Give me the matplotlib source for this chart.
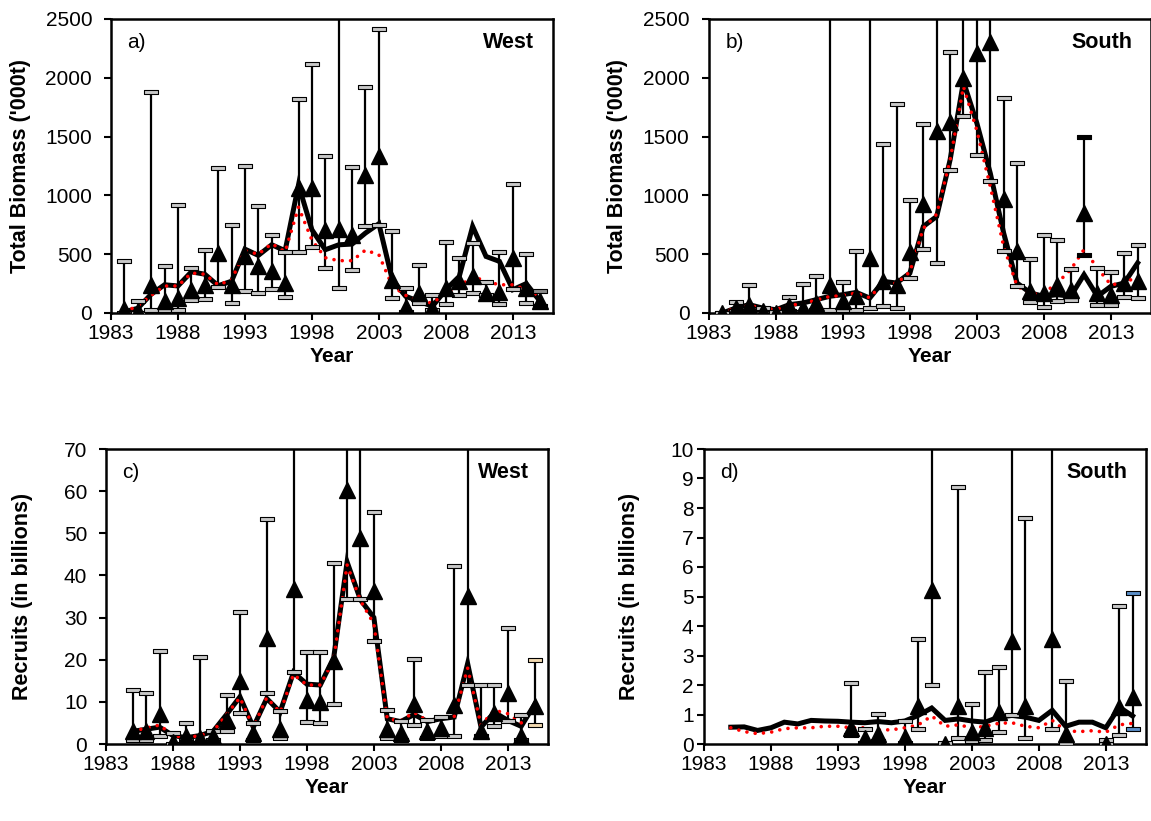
import matplotlib
matplotlib.use("Agg")
import matplotlib.pyplot as plt
import numpy as np

plt.rcParams['font.family'] = ['Liberation Sans', 'DejaVu Sans']

nan = np.nan

# ---- a) West biomass ('000 t), 1984-2015
years_ab = list(range(1984, 2016))
a_model = [10, 40, 160, 240, 230, 350, 330, 232, 270, 543, 490, 580, 530, 1090, 708, 538,
           580, 586, 680, 759, 283, 142, 99, 57, 198, 311, 736, 481, 439, 198, 250, 105]
a_alt = [10, 60, 150, 230, 230, 340, 330, 240, 280, 530, 500, 590, 520, 900, 620, 470,
         445, 445, 535, 495, 230, 150, 100, 85, 170, 226, 311, 269, 240, 240, 198, 142]
a_obs = [34, 14, 240, 99, 127, 198, 240, 510, 240, 481, 396, 354, 255, 1060, 1062, 708,
         713, 665, 1175, 1336, 283, 50, 170, 45, 212, 269, 311, 170, 178, 467, 212, 99]
a_hi = [439, 99, 1883, 402, 920, 382, 532, 1237, 745, 1254, 912, 660, 518, 1818, 2115, 1339,
        3500, 1240, 1925, 2415, 694, 212, 405, 156, 600, 464, 595, 260, 518, 1096, 501, 184]
a_lo = [0, 0, 28, 23, 23, 108, 122, 221, 85, 190, 170, 207, 133, 518, 560, 382,
        212, 368, 736, 745, 127, 10, 85, 28, 79, 156, 170, 150, 76, 200, 85, 60]

# ---- b) South biomass ('000 t), 1984-2015
b_model = [0, 42, 71, 42, 28, 71, 85, 113, 142, 156, 175, 127, 269, 255, 340, 736,
           821, 1302, 1968, 1614, 1189, 680, 255, 170, 142, 156, 142, 326, 142, 226, 255, 425]
b_alt = [0, 42, 65, 40, 30, 65, 80, 110, 140, 150, 170, 130, 260, 250, 350, 720,
         840, 1300, 1925, 1550, 1076, 566, 230, 160, 170, 255, 368, 540, 382, 240, 255, 311]
b_obs = [0, 42, 71, 14, 0, 57, 42, 85, 240, 99, 142, 467, 269, 240, 518, 926,
         1549, 1628, 2000, 2208, 2308, 971, 529, 190, 170, 235, 198, 849, 170, 156, 255, 269]
b_hi = [0, 90, 235, 40, 10, 133, 249, 311, 4000, 263, 524, 4000, 1438, 1778, 957, 1608,
        4000, 2217, 4000, 4000, 4000, 1832, 1274, 461, 660, 617, 377, 1495, 382, 348, 510, 575]
b_lo = [0, 20, 30, 0, 0, 20, 10, 25, 28, 28, 28, 42, 57, 42, 297, 544,
        425, 1217, 1679, 1345, 1124, 524, 232, 93, 51, 99, 113, 495, 71, 71, 133, 127]

# ---- c) West recruits (billions), 1985-2015
years_cd = list(range(1985, 2016))
c_model = [3.0, 3.5, 4.0, 2.0, 1.5, 2.0, 3.0, 7.0, 11.2, 4.0, 10.8, 7.6, 17.0, 14.2, 14.0, 20.5,
           43.2, 34.2, 30.0, 6.0, 5.3, 7.0, 5.3, 6.0, 6.4, 19.1, 4.0, 7.5, 5.6, 4.2, 9.4]
c_alt = [3.0, 3.8, 4.5, 2.0, 1.5, 2.0, 3.0, 7.0, 11.0, 4.0, 11.0, 7.5, 16.5, 14.0, 14.0, 20.0,
         42.5, 34.0, 28.5, 6.0, 5.5, 7.5, 5.5, 6.5, 6.5, 18.0, 4.5, 8.0, 7.2, 5.0, 9.0]
c_obs = [3.0, 3.0, 7.2, 0.5, 2.0, 1.5, 2.0, 5.6, 15.0, 2.5, 25.1, 3.5, 36.8, 10.4, 10.0, 19.7,
         60.2, 49.0, 36.3, 3.5, 2.5, 9.6, 3.0, 3.8, 9.2, 35.1, 3.0, 7.4, 12.0, 2.0, 9.1]
c_hi = [12.8, 12.2, 22.0, 2.5, 5.0, 20.7, 3.0, 11.6, 31.4, 5.0, 53.5, 7.8, 200, 21.8, 21.8, 43.0,
        200, 200, 55.1, 8.1, 5.5, 20.2, 5.6, 6.5, 42.2, 200, 14.0, 14.1, 27.5, 6.8, 19.9]
c_lo = [1.0, 1.0, 2.0, 0.1, 1.0, 0.3, 1.0, 3.0, 7.4, 1.0, 12.2, 1.5, 17.0, 5.2, 5.0, 9.4,
        34.5, 34.4, 24.4, 1.5, 1.0, 4.6, 1.5, 2.0, 2.0, 14.0, 2.0, 4.2, 5.4, 1.0, 4.4]

# ---- d) South recruits (billions), 1985-2015
d_model = [0.57, 0.58, 0.46, 0.55, 0.74, 0.68, 0.80, 0.78, 0.77, 0.74, 0.72, 0.76, 0.72, 0.78, 0.97, 1.22,
           0.80, 0.85, 0.78, 0.74, 0.91, 0.97, 0.91, 0.80, 1.14, 0.60, 0.74, 0.74, 0.55, 1.25, 0.95]
d_alt = [0.55, 0.42, 0.35, 0.40, 0.52, 0.55, 0.55, 0.60, 0.60, 0.55, 0.55, 0.48, 0.48, 0.55, 0.65, 0.95,
         0.60, 0.65, 0.55, 0.60, 0.70, 0.72, 0.60, 0.55, 0.80, 0.45, 0.42, 0.45, 0.40, 0.65, 0.70]
d_obs = [nan, nan, nan, nan, nan, nan, nan, nan, nan, 0.55, 0.2, 0.35, nan, 0.25, 1.28, 5.22,
         0.0, 1.28, 0.4, 0.55, 1.1, 3.5, 1.28, nan, 3.57, 0.35, nan, nan, 0.0, 1.25, 1.6]
d_hi = [nan, nan, nan, nan, nan, nan, nan, nan, nan, 2.07, 0.5, 1.03, nan, 0.78, 3.55, 20,
        0.05, 8.71, 1.36, 2.44, 2.61, 20, 7.65, nan, 20, 2.12, nan, nan, 0.15, 4.69, 5.13]
d_lo = [nan, nan, nan, nan, nan, nan, nan, nan, nan, 0.3, 0.05, 0.1, nan, 0.05, 0.5, 1.99,
        0.0, 0.2, 0.1, 0.15, 0.4, 0.97, 0.2, nan, 0.5, 0.0, nan, nan, 0.0, 0.3, 0.5]

cap_verts = [(-1, -0.24), (1, -0.24), (1, 0.24), (-1, 0.24), (-1, -0.24)]


def panel(ax, years, model, alt, obs, lo, hi, ymax, ystep, tag, region, ylabel,
          lab_x, ypad, cap_col=None):
    years = np.array(years)
    lo = np.array(lo, float)
    hi = np.array(hi, float)
    ax.vlines(years, lo, hi, colors='black', lw=1.6, zorder=1)
    cols = cap_col if cap_col else ['#c8c8c8'] * len(years)
    for yr, l, h, c in zip(years, lo, hi, cols):
        if np.isnan(l):
            continue
        ax.plot([yr, yr], [l, h], ls='none', marker=cap_verts, ms=10, mfc=c,
                mec='black', mew=0.8, zorder=4)
    ax.plot(years, model, color='black', lw=3.6, zorder=2, solid_joinstyle='miter')
    ax.plot(years, alt, color='red', lw=2.6, ls=(0, (0.01, 2.3)),
            dash_capstyle='round', zorder=3)
    ax.plot(years, obs, ls='none', marker='^', ms=11, color='black', zorder=5)
    ax.set_xlim(1983, 2016)
    ax.set_ylim(0, ymax)
    ax.set_xticks(range(1983, 2016, 5))
    ax.set_yticks(np.arange(0, ymax + ystep / 2, ystep))
    for s in ax.spines.values():
        s.set_linewidth(1.8)
    ax.tick_params(direction='out', length=5, width=1.5, labelsize=15, pad=3)
    ax.tick_params(axis='y', pad=ypad)
    ax.set_xlabel('Year', fontsize=15, fontweight='bold', labelpad=3)
    ax.set_ylabel(ylabel, fontsize=15.5, fontweight='bold')
    ax.yaxis.set_label_coords(lab_x, 0.5)
    ax.text(0.037, 0.92, tag, transform=ax.transAxes, fontsize=15, va='center')
    ax.text(0.957, 0.92, region, transform=ax.transAxes, fontsize=15.5,
            fontweight='bold', ha='right', va='center')


fig = plt.figure(figsize=(11.51, 8.21), dpi=100)
W, H = 1151, 821
ax_a = fig.add_axes([111 / W, 1 - 313 / H, 442 / W, 294 / H])
ax_b = fig.add_axes([709 / W, 1 - 313 / H, 442 / W, 294 / H])
ax_c = fig.add_axes([106 / W, 1 - 744 / H, 442 / W, 295 / H])
ax_d = fig.add_axes([704 / W, 1 - 744 / H, 442 / W, 295 / H])

a_caps = ['#c8c8c8'] * 31 + ['#8a8a8a']
b_caps = ['#c8c8c8'] * 27 + ['black'] + ['#c8c8c8'] * 4
c_caps = ['#c8c8c8'] * 30 + ['#f2d9b0']
d_caps = ['#c8c8c8'] * 30 + ['#5b8fc9']

panel(ax_a, years_ab, a_model, a_alt, a_obs, a_lo, a_hi, 2500, 500, 'a)', 'West',
      "Total Biomass ('000t)", -0.181, 8.5, a_caps)
panel(ax_b, years_ab, b_model, b_alt, b_obs, b_lo, b_hi, 2500, 500, 'b)', 'South',
      "Total Biomass ('000t)", -0.183, 9, b_caps)
panel(ax_c, years_cd, c_model, c_alt, c_obs, c_lo, c_hi, 70, 10, 'c)', 'West',
      'Recruits (in billions)', -0.165, 8.5, c_caps)
panel(ax_d, years_cd, d_model, d_alt, d_obs, d_lo, d_hi, 10, 1, 'd)', 'South',
      'Recruits (in billions)', -0.145, 2.5, d_caps)

fig.savefig('out.png', dpi=100)
